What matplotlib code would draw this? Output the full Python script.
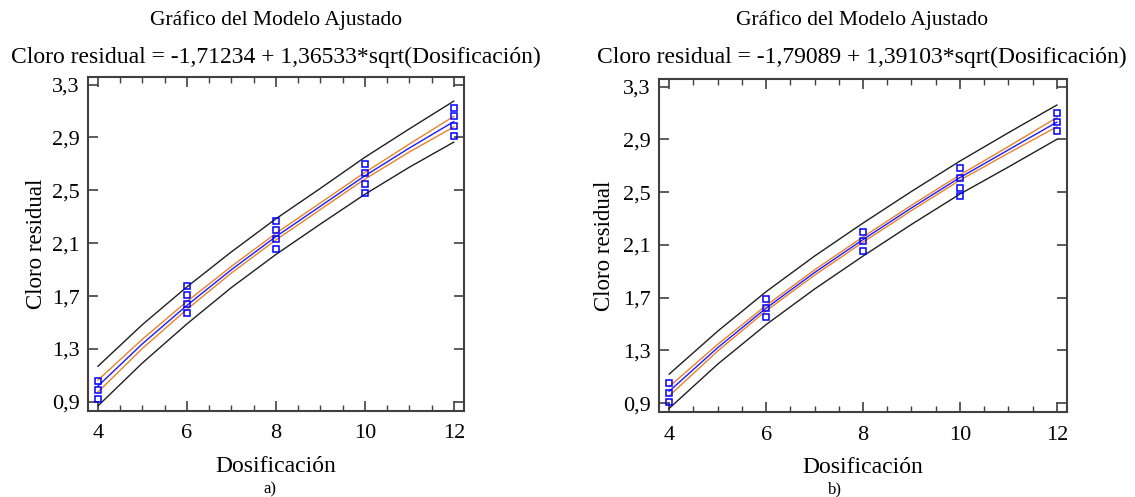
import numpy as np
import matplotlib
matplotlib.use("Agg")
import matplotlib.pyplot as plt

plt.rcParams['font.family'] = ['Liberation Serif', 'DejaVu Serif']

# observed points (Dosificación, Cloro residual)
a_x = [4, 4, 4, 6, 6, 6, 6, 8, 8, 8, 8, 10, 10, 10, 10, 12, 12, 12, 12]
a_y = [0.92, 0.99, 1.06, 1.57, 1.64, 1.71, 1.78, 2.06, 2.13, 2.20, 2.27,
       2.48, 2.55, 2.63, 2.70, 2.91, 2.99, 3.06, 3.12]
b_x = [4, 4, 4, 6, 6, 6, 8, 8, 8, 10, 10, 10, 10, 12, 12, 12]
b_y = [0.91, 0.98, 1.05, 1.55, 1.62, 1.69, 2.05, 2.13, 2.20,
       2.47, 2.53, 2.61, 2.68, 2.96, 3.03, 3.10]

# fitted curve and bands
curve_x = [4, 5, 6, 7, 8, 9, 10, 11, 12]
a_fit = [1.02, 1.34, 1.63, 1.90, 2.15, 2.38, 2.61, 2.82, 3.02]
a_conf_hi = [1.065, 1.375, 1.66, 1.925, 2.175, 2.405, 2.635, 2.85, 3.06]
a_conf_lo = [0.975, 1.305, 1.60, 1.875, 2.125, 2.355, 2.585, 2.79, 2.98]
a_pred_hi = [1.17, 1.485, 1.77, 2.035, 2.285, 2.515, 2.75, 2.965, 3.175]
a_pred_lo = [0.87, 1.195, 1.49, 1.765, 2.015, 2.245, 2.47, 2.675, 2.865]
b_fit = [0.99, 1.32, 1.62, 1.89, 2.14, 2.38, 2.61, 2.82, 3.03]
b_conf_hi = [1.025, 1.345, 1.64, 1.91, 2.16, 2.40, 2.63, 2.845, 3.065]
b_conf_lo = [0.955, 1.295, 1.60, 1.87, 2.12, 2.36, 2.59, 2.795, 2.995]
b_pred_hi = [1.12, 1.445, 1.745, 2.015, 2.265, 2.505, 2.735, 2.95, 3.16]
b_pred_lo = [0.86, 1.195, 1.495, 1.765, 2.015, 2.255, 2.485, 2.69, 2.90]

yticks = [0.9, 1.3, 1.7, 2.1, 2.5, 2.9, 3.3]
ytick_labels = ["0,9", "1,3", "1,7", "2,1", "2,5", "2,9", "3,3"]
xticks = [4, 6, 8, 10, 12]
xtick_labels = ["4", "6", "8", "10", "12"]

titles = ["Cloro residual = -1,71234 + 1,36533*sqrt(Dosificación)",
          "Cloro residual = -1,79089 + 1,39103*sqrt(Dosificación)"]

fig = plt.figure(figsize=(11.35, 4.97), dpi=100)
ax1 = fig.add_axes([0.0773, 0.174, 0.3315, 0.6704])
ax2 = fig.add_axes([0.5806, 0.1716, 0.3595, 0.6688])

spine_col = "#404040"
panels = [
    (ax1, a_x, a_y, a_fit, a_conf_hi, a_conf_lo, a_pred_hi, a_pred_lo, (3.77, 12.23), 276, "a)", 270, titles[0]),
    (ax2, b_x, b_y, b_fit, b_conf_hi, b_conf_lo, b_pred_hi, b_pred_lo, (3.79, 12.21), 862, "b)", 835, titles[1]),
]

for ax, px, py, fit, chi, clo, phi, plo, xl, cx, cap, capx, ttl in panels:
    ax.plot(curve_x, phi, color="#202020", lw=1)
    ax.plot(curve_x, plo, color="#202020", lw=1)
    ax.plot(curve_x, chi, color="#e8822a", lw=1)
    ax.plot(curve_x, clo, color="#e8822a", lw=1)
    ax.plot(curve_x, fit, color="#1a1aff", lw=1)
    ax.plot(px, py, ls="none", marker="s", ms=5, mfc="none", mec="#0000ff", mew=1.1)

    ax.set_xlim(*xl)
    ax.set_ylim(0.835, 3.355)
    ax.set_xticks(xticks)
    ax.set_xticklabels(xtick_labels)
    ax.set_xticks(np.arange(4, 12.01, 0.5), minor=True)
    ax.set_yticks(yticks)
    ax.set_yticklabels(ytick_labels)
    ax.tick_params(which="both", direction="in", top=True, right=True,
                   colors=spine_col, labelcolor="black", labelsize=16)
    ax.tick_params(which="major", length=7, width=1.2)
    ax.tick_params(which="minor", length=4, width=1)
    ax.tick_params(axis="x", pad=10)
    ax.tick_params(axis="y", pad=6)
    for s in ax.spines.values():
        s.set_color(spine_col)
        s.set_linewidth(1.5)

    ax.set_xlabel("Dosificación", fontsize=17)
    ax.xaxis.set_label_coords(0.5, -0.135)
    ax.set_ylabel("Cloro residual", fontsize=16.5)
    ax.yaxis.set_label_coords(-0.107, 0.5)

    fig.text(cx / 1135, 1 - 20 / 497, "Gráfico del Modelo Ajustado",
             ha="center", va="center", fontsize=15.5)
    fig.text(cx / 1135, 1 - 57 / 497, ttl, ha="center", va="center", fontsize=17)
    fig.text(capx / 1135, 1 - 489 / 497, cap, ha="center", va="center", fontsize=12)

fig.savefig("out.png", dpi=100)
